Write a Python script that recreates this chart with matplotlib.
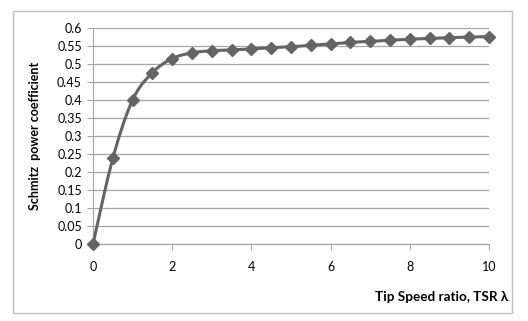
import numpy as np
import matplotlib
matplotlib.use("Agg")
import matplotlib.pyplot as plt
from matplotlib.patches import Rectangle

tsr = [0, 0.5, 1, 1.5, 2, 2.5, 3, 3.5, 4, 4.5, 5, 5.5, 6, 6.5, 7, 7.5, 8, 8.5, 9, 9.5, 10]
cp = [0, 0.238, 0.400, 0.476, 0.515, 0.531, 0.537, 0.539, 0.542, 0.545, 0.548, 0.552,
      0.556, 0.560, 0.563, 0.566, 0.569, 0.571, 0.573, 0.575, 0.576]
xticks = [0, 2, 4, 6, 8, 10]
yticks = [0, 0.05, 0.1, 0.15, 0.2, 0.25, 0.3, 0.35, 0.4, 0.45, 0.5, 0.55, 0.6]
ylabel = "Schmitz  power coefficient"
xlabel = "Tip Speed ratio, TSR λ"

plt.rcParams['font.family'] = ['Lato', 'DejaVu Sans']

def smooth(x, y, n=20, t=0.5):
    # Catmull-Rom style smoothing like Excel's smoothed line
    x = np.asarray(x, float); y = np.asarray(y, float)
    px = np.concatenate([[x[0]], x, [x[-1]]])
    py = np.concatenate([[y[0]], y, [y[-1]]])
    xs, ys = [], []
    s = np.linspace(0, 1, n, endpoint=False)
    for i in range(1, len(px) - 2):
        p0 = np.array([px[i-1], py[i-1]]); p1 = np.array([px[i], py[i]])
        p2 = np.array([px[i+1], py[i+1]]); p3 = np.array([px[i+2], py[i+2]])
        c1 = p1 + (p2 - p0) * t / 3
        c2 = p2 - (p3 - p1) * t / 3
        for u in s:
            b = ((1-u)**3)*p1 + 3*((1-u)**2)*u*c1 + 3*(1-u)*u*u*c2 + u**3*p2
            xs.append(b[0]); ys.append(b[1])
    xs.append(x[-1]); ys.append(y[-1])
    return xs, ys

fig = plt.figure(figsize=(5.28, 3.21), dpi=100)
fig.patch.set_facecolor('white')
fig.patches.append(Rectangle((13/528, 1-313/321), (512-13)/528, (313-11)/321,
                             transform=fig.transFigure, fill=False,
                             edgecolor='#bfbfbf', linewidth=1.0))

ax = fig.add_axes([93/528, 1-244/321, (489-93)/528, (244-28)/321])
sx, sy = smooth(tsr, cp)
ax.plot(sx, sy, color='#646464', linewidth=2.2, zorder=3, solid_capstyle='round', clip_on=False)
ax.plot(tsr, cp, linestyle='none', marker='D', markersize=6, color='#646464', zorder=4, clip_on=False)

ax.set_xlim(0, 10)
ax.set_ylim(0, 0.6)
ax.set_xticks(xticks)
ax.set_xticklabels([str(v) for v in xticks])
ax.set_yticks(yticks)
ax.set_yticklabels([f"{v:g}" for v in yticks])
ax.yaxis.grid(True, color='#a6a6a6', linewidth=0.9)
ax.set_axisbelow(True)
for side in ['top', 'right']:
    ax.spines[side].set_visible(False)
ax.spines['left'].set_color('#a6a6a6')
ax.spines['bottom'].set_color('#a6a6a6')
ax.tick_params(axis='both', colors='#a6a6a6', labelcolor='black', labelsize=9, length=4)
ax.tick_params(axis='x', pad=8)
ax.tick_params(axis='y', pad=4)

fig.text(35/528, 1-136/321, ylabel, rotation=90, ha='center', va='center',
         fontsize=9, fontweight='bold')
fig.text(508/528, 1-297/321, xlabel, ha='right', va='center',
         fontsize=9.7, fontweight='bold')

fig.savefig('out.png', dpi=100, facecolor='white')
